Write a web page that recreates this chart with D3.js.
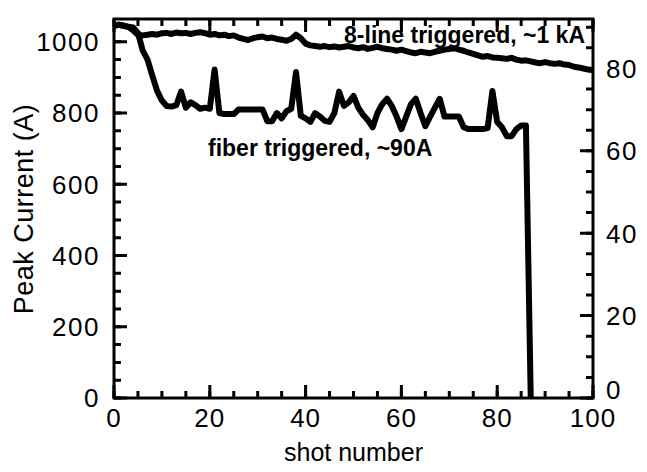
<!DOCTYPE html>
<html>
<head>
<meta charset="utf-8">
<script src="https://cdn.jsdelivr.net/npm/d3@7/dist/d3.min.js"></script>
<style>
  body { margin: 0; background: #fff; }
  text { font-family: "Liberation Sans", Arial, sans-serif; fill: #000; }
</style>
</head>
<body>
<svg id="chart" width="647" height="472"></svg>
<script>
// Peak current vs shot number for two trigger schemes.

// Shot numbers for each series.
const lineShots = d3.range(0, 101);
const fiberShots = d3.range(0, 88);

// 8-line triggered, ~1 kA (A).
const lineCurrent = [
  1045, 1048, 1045, 1042, 1032, 1020, 1018, 1020, 1022, 1020,
  1024, 1025, 1022, 1026, 1024, 1025, 1022, 1025, 1027, 1024,
  1020, 1022, 1018, 1020, 1016, 1018, 1012, 1008, 1005, 1010,
  1013, 1015, 1010, 1012, 1008, 1006, 1003, 1008, 1020, 1010,
  995, 990, 988, 986, 988, 985, 987, 984, 986, 988,
  984, 982, 985, 980, 983, 986, 982, 980, 978, 975,
  978, 974, 970, 968, 972, 970, 968, 972, 975, 978,
  980, 982, 978, 975, 970, 966, 962, 958, 960, 956,
  955, 954, 952, 955, 950, 947, 948, 945, 942, 940,
  943, 940, 938, 940, 936, 935, 930, 928, 925, 922,
  920
];

// fiber triggered, ~90A (A).
const fiberCurrent = [
  1045, 1048, 1045, 1042, 1040, 1025, 975, 950, 905, 862,
  835, 820, 818, 822, 860, 815, 830, 822, 812, 815,
  812, 922, 800, 797, 797, 797, 810, 810, 810, 810,
  810, 810, 777, 777, 800, 785, 805, 812, 915, 792,
  785, 775, 800, 790, 778, 775, 800, 860, 820, 830,
  848, 815, 795, 780, 760, 800, 825, 840, 820, 790,
  755, 790, 825, 840, 800, 763, 790, 815, 840, 790,
  790, 790, 790, 760, 755, 755, 755, 755, 758, 862,
  775, 760, 735, 735, 755, 765, 765, 0
];

// Tick values.
const xMajor = [0, 20, 40, 60, 80, 100];
const xMinor = d3.range(0, 101, 5);
const yLeftMajor = [0, 200, 400, 600, 800, 1000];
const yLeftMinor = d3.range(0, 1051, 50);
const yRightMajor = [0, 20, 40, 60, 80];
const yRightMinor = d3.range(0, 91, 5);

const svg = d3.select("#chart");
const plotLeft = 114, plotRight = 593, plotTop = 19, plotBottom = 398;
const majorLen = 13, minorLen = 7;

const x = d3.scaleLinear().domain([0, 100]).range([plotLeft, plotRight]);
const yL = d3.scaleLinear().domain([0, 1064]).range([plotBottom, plotTop]);
const yR = d3.scaleLinear().domain([0, 92]).range([plotBottom, plotTop]);

// Draw inward tick marks along one side of the frame, as one path.
function drawTicks (values, scale, side, len) {
    const vertical = (side === "left" || side === "right");
    const base = {left: plotLeft, right: plotRight, top: plotTop, bottom: plotBottom}[side];
    const dir = (side === "left" || side === "top") ? 1 : -1;
    const p = d3.path();
    values.forEach(v => {
        const s = scale(v);
        if (vertical) { p.moveTo(base, s); p.lineTo(base + dir * len, s); }
        else { p.moveTo(s, base); p.lineTo(s, base + dir * len); }
    });
    svg.append("path")
        .attr("d", p.toString())
        .attr("fill", "none").attr("stroke", "#000").attr("stroke-width", 3);
}

drawTicks(xMinor, x, "bottom", minorLen);
drawTicks(xMajor, x, "bottom", majorLen);
drawTicks(xMinor, x, "top", minorLen);
drawTicks(xMajor, x, "top", majorLen);
drawTicks(yLeftMinor, yL, "left", minorLen);
drawTicks(yLeftMajor, yL, "left", majorLen);
drawTicks(yRightMinor, yR, "right", minorLen);
drawTicks(yRightMajor, yR, "right", majorLen);

// Tick labels.
svg.append("g").selectAll("text")
    .data(xMajor).join("text")
    .attr("x", d => x(d)).attr("y", 427)
    .attr("text-anchor", "middle")
    .style("font-size", "26px").style("letter-spacing", "1px")
    .text(d => d);
svg.append("g").selectAll("text")
    .data(yLeftMajor).join("text")
    .attr("x", 100).attr("y", d => yL(d)).attr("dy", "0.36em")
    .attr("text-anchor", "end")
    .style("font-size", "26px").style("letter-spacing", "1.5px")
    .text(d => d);
svg.append("g").selectAll("text")
    .data(yRightMajor).join("text")
    .attr("x", 606).attr("y", d => yR(d) - (d === 0 ? 8 : 0)).attr("dy", "0.36em")
    .style("font-size", "26px").style("letter-spacing", "1.5px")
    .text(d => d);

// Frame.
svg.append("rect")
    .attr("x", plotLeft).attr("y", plotTop)
    .attr("width", plotRight - plotLeft).attr("height", plotBottom - plotTop)
    .attr("fill", "none").attr("stroke", "#000").attr("stroke-width", 3);

// Data lines.
const lineGen = d3.line().x(d => x(d[0])).y(d => yL(d[1]));
svg.append("path")
    .datum(lineShots.map((s, i) => [s, lineCurrent[i]]))
    .attr("d", lineGen)
    .attr("fill", "none").attr("stroke", "#000").attr("stroke-width", 6)
    .attr("stroke-linejoin", "round");
svg.append("path")
    .datum(fiberShots.map((s, i) => [s, fiberCurrent[i]]))
    .attr("d", lineGen)
    .attr("fill", "none").attr("stroke", "#000").attr("stroke-width", 6)
    .attr("stroke-linejoin", "round");

// Annotations.
svg.append("text").text("8-line triggered, ~1 kA")
    .attr("x", 585).attr("y", 43).attr("text-anchor", "end")
    .style("font-size", "23px").style("font-weight", "bold");
svg.append("text").text("fiber triggered, ~90A")
    .attr("x", 208).attr("y", 156)
    .style("font-size", "23px").style("font-weight", "bold");

// Axis titles.
svg.append("text").text("shot number")
    .attr("x", (plotLeft + plotRight) / 2).attr("y", 461).attr("text-anchor", "middle")
    .style("font-size", "25px");
svg.append("text").text("Peak Current (A)")
    .attr("transform", "translate(33,209) rotate(-90)").attr("text-anchor", "middle")
    .style("font-size", "27px").style("letter-spacing", "0.5px");
</script>
</body>
</html>
